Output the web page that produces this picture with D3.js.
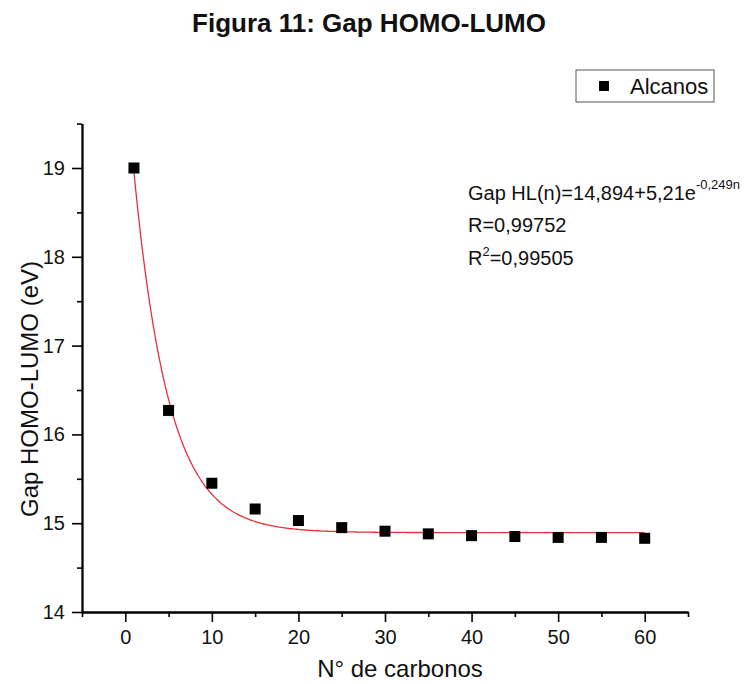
<!DOCTYPE html>
<html>
<head>
<meta charset="utf-8">
<script src="https://cdn.jsdelivr.net/npm/d3@7"></script>
<style>
  html, body { margin: 0; padding: 0; background: #fff; }
  svg { display: block; font-family: "Liberation Sans", Arial, sans-serif; }
</style>
</head>
<body>
<svg id="chart" width="754" height="684"></svg>
<script>
// ---- data ----
const nCarbons = [1, 5, 10, 15, 20, 25, 30, 35, 40, 45, 50, 55, 60];
const gapValues = [19.00, 16.27, 15.45, 15.16, 15.03, 14.95, 14.91, 14.88, 14.86, 14.85, 14.84, 14.84, 14.83];
const xMajorTicks = [0, 10, 20, 30, 40, 50, 60];
const xMinorTicks = [-5, 5, 15, 25, 35, 45, 55, 65];
const yMajorTicks = [14, 15, 16, 17, 18, 19];
const yMinorTicks = [14.5, 15.5, 16.5, 17.5, 18.5, 19.5];
// fitted model shown on the chart: Gap HL(n) = A + B * e^(C n)
const fitA = 14.894;
const fitB = 5.21;
const fitC = -0.249;
const fitRange = [1, 60];
const seriesName = "Alcanos";
const titleText = "Figura 11: Gap HOMO-LUMO";
const xTitle = "N° de carbonos";
const yTitle = "Gap HOMO-LUMO (eV)";

const svg = d3.select("#chart");
const pLeft = 82, pRight = 688, pTop = 123.6, pBottom = 612;

const x = d3.scaleLinear().domain([-5, 65]).range([pLeft, pRight]);
const y = d3.scaleLinear().domain([14, 19.5]).range([pBottom, pTop]);

// title
svg.append("text").attr("x", 369).attr("y", 32)
  .attr("text-anchor", "middle").attr("font-size", 26).attr("font-weight", "bold")
  .attr("fill", "#111").text(titleText);

// fit curve
const fitPts = d3.range(fitRange[0], fitRange[1] + 0.001, 0.2).map(n => [n, fitA + fitB * Math.exp(fitC * n)]);
svg.append("path").datum(fitPts)
  .attr("fill", "none").attr("stroke", "#e8303a").attr("stroke-width", 1.3)
  .attr("d", d3.line().x(d => x(d[0])).y(d => y(d[1])));

// points
svg.append("g").selectAll("rect").data(nCarbons.map((n, i) => [n, gapValues[i]]))
  .join("rect")
  .attr("x", d => x(d[0]) - 5.5).attr("y", d => y(d[1]) - 5.5)
  .attr("width", 11).attr("height", 11).attr("fill", "#000");

// axes
function styleAxis(g) {
  g.select(".domain").attr("stroke", "#000").attr("stroke-width", 1.8);
  g.selectAll(".tick line").attr("stroke", "#000").attr("stroke-width", 1.6);
  g.selectAll(".tick text").attr("fill", "#111").attr("font-size", 20)
    .attr("font-family", "Liberation Sans, Arial, sans-serif");
}
const xAxisMinor = svg.append("g").attr("transform", `translate(0,${pBottom})`)
  .call(d3.axisBottom(x).tickValues(xMinorTicks).tickSize(5).tickFormat("").tickSizeOuter(0));
styleAxis(xAxisMinor);
const xAxis = svg.append("g").attr("transform", `translate(0,${pBottom})`)
  .call(d3.axisBottom(x).tickValues(xMajorTicks).tickSize(10).tickPadding(8)
    .tickFormat(d3.format("d")).tickSizeOuter(0));
styleAxis(xAxis);

const yAxisMinor = svg.append("g").attr("transform", `translate(${pLeft},0)`)
  .call(d3.axisLeft(y).tickValues(yMinorTicks).tickSize(5).tickFormat("").tickSizeOuter(0));
styleAxis(yAxisMinor);
const yAxis = svg.append("g").attr("transform", `translate(${pLeft},0)`)
  .call(d3.axisLeft(y).tickValues(yMajorTicks).tickSize(10).tickPadding(7)
    .tickFormat(d3.format("d")).tickSizeOuter(0));
styleAxis(yAxis);

// axis titles
svg.append("text").attr("x", 400).attr("y", 677)
  .attr("text-anchor", "middle").attr("font-size", 24).attr("fill", "#111").text(xTitle);
svg.append("text").attr("transform", "translate(38,389) rotate(-90)")
  .attr("text-anchor", "middle").attr("font-size", 24).attr("fill", "#111").text(yTitle);

// legend
svg.append("rect").attr("x", 576).attr("y", 70).attr("width", 138).attr("height", 32)
  .attr("fill", "#fff").attr("stroke", "#555").attr("stroke-width", 1);
svg.append("rect").attr("x", 599).attr("y", 81).attr("width", 10).attr("height", 10).attr("fill", "#000");
svg.append("text").attr("x", 630).attr("y", 94).attr("font-size", 22).attr("fill", "#111").text(seriesName);

// equation
const eq = svg.append("g").attr("font-size", 20).attr("fill", "#111");
const l1 = eq.append("text").attr("x", 468).attr("y", 200);
l1.append("tspan").text("Gap HL(n)=14,894+5,21e");
l1.append("tspan").attr("dy", -11).attr("font-size", 13).text("-0,249n");
eq.append("text").attr("x", 468).attr("y", 232).text("R=0,99752");
const l3 = eq.append("text").attr("x", 468).attr("y", 265);
l3.append("tspan").text("R");
l3.append("tspan").attr("dy", -9).attr("font-size", 13).text("2");
l3.append("tspan").attr("dy", 9).text("=0,99505");
</script>
</body>
</html>
